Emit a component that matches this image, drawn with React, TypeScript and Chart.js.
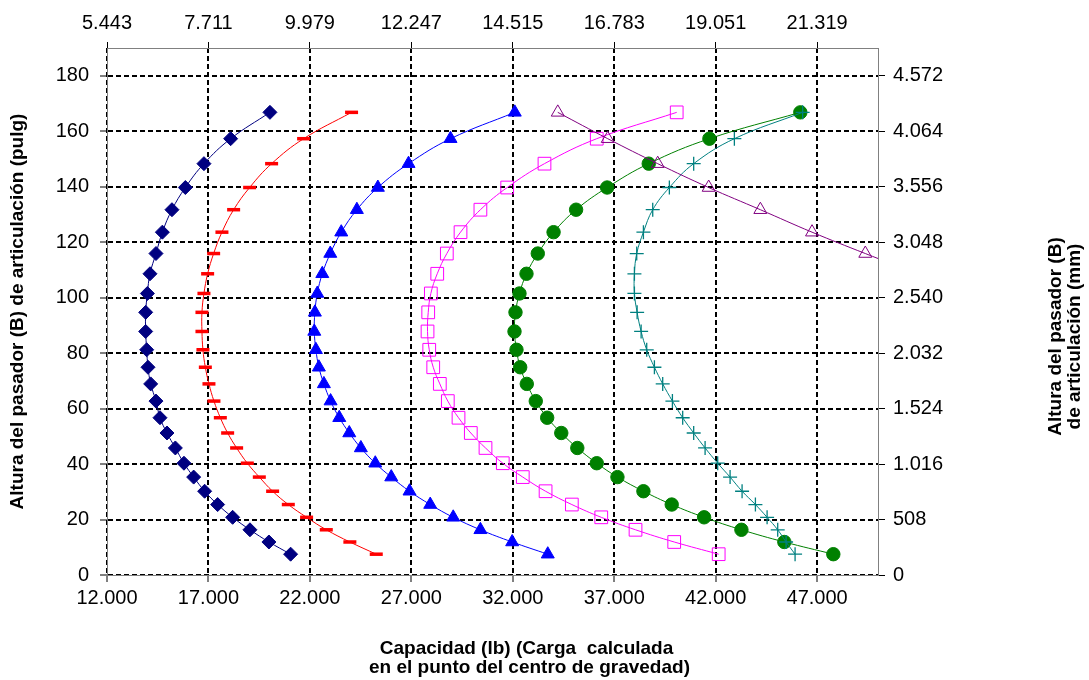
import React, { useEffect, useRef } from "react";
import { Chart, registerables } from "chart.js";

Chart.register(...registerables);

// Heights (pulg) shared by the curves, bottom to top
const heights = [7.5, 11.9, 16.3, 20.8, 25.4, 30.2, 35.3, 40.3, 45.8, 51.2, 56.7, 62.7, 68.9, 74.9, 81.2, 87.8, 94.7, 101.5, 108.6, 115.9, 123.6, 131.7, 139.7, 148.3, 157.3, 166.8];
const purpleHeights = [108.6, 115.9, 123.6, 131.7, 139.7, 148.3, 157.3, 166.8];

// Capacities (lb)
const navyCap = [21050, 19980, 19045, 18192, 17453, 16813, 16271, 15793, 15369, 14956, 14611, 14414, 14153, 14020, 13956, 13906, 13906, 13990, 14118, 14414, 14729, 15202, 15862, 16778, 18094, 20030];
const redCap = [25271, 23970, 22808, 21837, 20936, 20163, 19507, 18916, 18389, 17946, 17586, 17271, 17025, 16847, 16729, 16680, 16680, 16778, 16960, 17256, 17665, 18241, 19030, 20113, 21690, 24054];
const blueCap = [33724, 31970, 30404, 29064, 27931, 26911, 26010, 25222, 24512, 23941, 23448, 23020, 22690, 22443, 22296, 22217, 22246, 22365, 22611, 23005, 23546, 24315, 25350, 26862, 28931, 32098];
const magentaCap = [42148, 39956, 38049, 36360, 34911, 33616, 32493, 31507, 30655, 29931, 29325, 28798, 28404, 28079, 27882, 27798, 27832, 27961, 28276, 28749, 29424, 30404, 31724, 33562, 36138, 40079];
const greenCap = [47798, 45384, 43268, 41429, 39833, 38438, 37158, 36138, 35180, 34390, 33695, 33133, 32690, 32365, 32182, 32084, 32133, 32330, 32675, 33232, 34010, 35120, 36650, 38700, 41690, 46172];
const tealCap = [45913, 45470, 45057, 44534, 43958, 43301, 42710, 42099, 41478, 40916, 40374, 39867, 39389, 38980, 38601, 38325, 38128, 37995, 37995, 38108, 38438, 38897, 39717, 40916, 42921, 46286];
const purpleCap = [51950, 49374, 46749, 44202, 41655, 39143, 36680, 34217];

// Axes
const xTickValues = [12000, 17000, 22000, 27000, 32000, 37000, 42000, 47000];
const xTickLabels = ["12.000", "17.000", "22.000", "27.000", "32.000", "37.000", "42.000", "47.000"];
const xTopTickLabels = ["5.443", "7.711", "9.979", "12.247", "14.515", "16.783", "19.051", "21.319"];
const yTickValues = [0, 20, 40, 60, 80, 100, 120, 140, 160, 180];
const yTickLabels = ["0", "20", "40", "60", "80", "100", "120", "140", "160", "180"];
const yRightTickLabels = ["0", "508", "1.016", "1.524", "2.032", "2.540", "3.048", "3.556", "4.064", "4.572"];

const xTitleLines = ["Capacidad (lb) (Carga  calculada", "en el punto del centro de gravedad)"];
const yTitle = "Altura del pasador (B) de articulación (pulg)";
const y2TitleLines = ["Altura del pasador (B)", "de articulación (mm)"];

const FONT = '"Liberation Sans", Arial, sans-serif';

const toPoints = (xs: number[], ys: number[]) => xs.map((x, i) => ({ x, y: ys[i] }));

const extraTitles = {
  id: "extraTitles",
  afterDraw(chart: any) {
    const { ctx, chartArea } = chart;
    ctx.save();
    ctx.font = `bold 19px ${FONT}`;
    ctx.fillStyle = "#000";
    ctx.textAlign = "center";
    ctx.textBaseline = "middle";
    const cx = (chartArea.left + chartArea.right) / 2 + 36;
    ctx.fillText(xTitleLines[0], cx - 2, chartArea.bottom + 74);
    ctx.fillText(xTitleLines[1], cx + 1, chartArea.bottom + 93);
    ctx.translate(chartArea.right + 178, (chartArea.top + chartArea.bottom) / 2 + 25);
    ctx.rotate(-Math.PI / 2);
    ctx.fillText(y2TitleLines[0], 0, 0);
    ctx.fillText(y2TitleLines[1], 0, 19);
    ctx.restore();
  },
};

export default function App() {
  const ref = useRef<HTMLCanvasElement | null>(null);

  useEffect(() => {
    if (!ref.current) return;
    const base = { showLine: true, tension: 0.4, borderWidth: 1, pointHoverRadius: 0 };
    const setTicks = (vals: number[]) => (s: any) => {
      s.ticks = vals.map((v) => ({ value: v }));
    };
    const gridMain = {
      color: "#000",
      lineWidth: 2,
      tickColor: "#000",
      tickWidth: 1,
      tickLength: 7,
      tickBorderDash: [],
    };
    const chart = new Chart(ref.current, {
      type: "scatter",
      data: {
        datasets: [
          { ...base, label: "A", data: toPoints(navyCap, heights), borderColor: "#000080", backgroundColor: "#000080", pointStyle: "rectRot", pointRadius: 7, pointBorderWidth: 1, order: 7 },
          { ...base, label: "B", data: toPoints(redCap, heights), borderColor: "#FF0000", backgroundColor: "#FF0000", pointStyle: "line", pointRadius: 6.5, pointBorderWidth: 3.5, order: 6 },
          { ...base, label: "C", data: toPoints(blueCap, heights), borderColor: "#0000FF", backgroundColor: "#0000FF", pointStyle: "triangle", pointRadius: 7.5, pointBorderWidth: 1, order: 5 },
          { ...base, label: "D", data: toPoints(magentaCap, heights), borderColor: "#FF00FF", backgroundColor: "rgba(0,0,0,0)", pointStyle: "rect", pointRadius: 9, pointBorderWidth: 1, order: 4 },
          { ...base, label: "E", data: toPoints(greenCap, heights), borderColor: "#008000", backgroundColor: "#008000", pointStyle: "circle", pointRadius: 6.7, pointBorderWidth: 1, order: 3 },
          { ...base, label: "F", data: toPoints(tealCap, heights), borderColor: "#008080", backgroundColor: "#008080", pointStyle: "cross", pointRadius: 7, pointBorderWidth: 1.3, order: 2 },
          { ...base, label: "G", data: toPoints(purpleCap, purpleHeights), borderColor: "#800080", backgroundColor: "rgba(0,0,0,0)", pointStyle: "triangle", pointRadius: 7.5, pointBorderWidth: 1, order: 1 },
        ],
      },
      options: {
        animation: false,
        responsive: false,
        events: [],
        layout: { padding: 0 },
        plugins: { legend: { display: false }, tooltip: { enabled: false } },
        scales: {
          x: {
            type: "linear",
            position: "bottom",
            min: 12000,
            max: 50000,
            afterBuildTicks: setTicks(xTickValues),
            afterFit: (s: any) => { s.height = 105; },
            ticks: { callback: (_v: any, i: number) => xTickLabels[i], font: { family: FONT, size: 20 }, color: "#000", padding: 4, maxRotation: 0, autoSkip: false },
            grid: gridMain,
            border: { display: true, color: "#808080", width: 1, dash: [5, 3] },
          },
          x2: {
            type: "linear",
            position: "top",
            min: 12000,
            max: 50000,
            afterBuildTicks: setTicks(xTickValues),
            afterFit: (s: any) => { s.height = 48; },
            ticks: { callback: (_v: any, i: number) => xTopTickLabels[i], font: { family: FONT, size: 20 }, color: "#000", padding: 7, maxRotation: 0, autoSkip: false },
            grid: { drawOnChartArea: false, color: "#000", tickColor: "#000", tickLength: 6, tickWidth: 1 },
            border: { display: true, color: "#808080", width: 1 },
          },
          y: {
            type: "linear",
            position: "left",
            min: 0,
            max: 190,
            afterBuildTicks: setTicks(yTickValues),
            afterFit: (s: any) => { s.width = 107; },
            ticks: { callback: (_v: any, i: number) => yTickLabels[i], font: { family: FONT, size: 20 }, color: "#000", padding: 11, autoSkip: false },
            grid: gridMain,
            border: { display: true, color: "#808080", width: 1, dash: [5, 3] },
            title: { display: true, text: yTitle, font: { family: FONT, size: 19, weight: "bold" }, color: "#000", padding: { top: 6, bottom: 0 } },
          },
          y2: {
            type: "linear",
            position: "right",
            min: 0,
            max: 190,
            afterBuildTicks: setTicks(yTickValues),
            afterFit: (s: any) => { s.width = 211; },
            ticks: { callback: (_v: any, i: number) => yRightTickLabels[i], font: { family: FONT, size: 20 }, color: "#000", padding: 8, autoSkip: false },
            grid: { drawOnChartArea: false, color: "#000", tickColor: "#000", tickLength: 7, tickWidth: 1 },
            border: { display: true, color: "#808080", width: 1 },
          },
        },
      },
      plugins: [extraTitles],
    } as any);
    return () => chart.destroy();
  }, []);

  return (
    <div style={{ position: "absolute", left: 0, top: 0, width: 1089, height: 680, background: "#fff" }}>
      <canvas ref={ref} width={1089} height={680} style={{ display: "block" }} />
    </div>
  );
}
